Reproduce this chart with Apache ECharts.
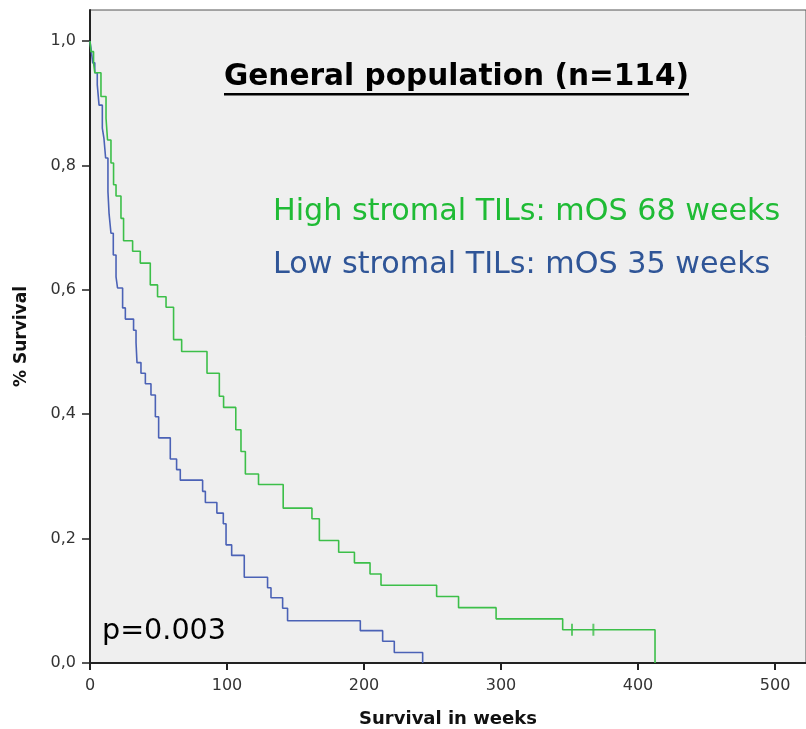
<!DOCTYPE html>
<html>
<head>
<meta charset="utf-8">
<script src="https://cdn.jsdelivr.net/npm/echarts@6/dist/echarts.min.js"></script>
<style>html,body{margin:0;padding:0;background:#fff}#c{width:806px;height:729px}</style>
</head>
<body>
<div id="c"></div>
<script>
// Kaplan-Meier steps: time (weeks) at which survival drops, and survival after the drop
var highTimes = [0, 0.7, 2.6, 3.5, 8, 11.7, 12.8, 15.3, 17.2, 19, 22.6, 24.5, 31.1, 36.7, 44, 49.3, 55.5, 61, 66.9, 85.4, 94.4, 97.5, 106.4, 110.2, 113.4, 123, 141, 162, 167.4, 181.5, 193, 204.4, 212.4, 253, 269, 296.4, 345, 412.4];
var highSurv  = [1.0, 0.983, 0.965, 0.949, 0.911, 0.876, 0.841, 0.804, 0.769, 0.751, 0.715, 0.679, 0.662, 0.643, 0.608, 0.589, 0.572, 0.520, 0.501, 0.466, 0.429, 0.411, 0.375, 0.340, 0.304, 0.287, 0.249, 0.232, 0.197, 0.178, 0.161, 0.143, 0.125, 0.107, 0.089, 0.071, 0.0535, 0];
var highCensorTimes = [351.8, 367.4];
var highCensorSurv  = [0.0535, 0.0535];

var lowTimes = [0, 1, 2, 3.5, 5.3, 6.6, 9, 10.2, 11.4, 13.1, 13.9, 15.3, 17, 19, 20.1, 23.8, 25.8, 31.8, 33.6, 34.3, 37.2, 40.4, 44.5, 47.7, 50.1, 58.6, 63.2, 65.9, 82.2, 84.2, 92.6, 97.3, 99.3, 103.4, 112.6, 129.6, 132.1, 140.6, 144.2, 197.3, 213.6, 222.1, 242.8];
var lowSurv  = [1.0, 0.983, 0.965, 0.949, 0.930, 0.897, 0.860, 0.843, 0.812, 0.758, 0.723, 0.691, 0.656, 0.621, 0.603, 0.571, 0.553, 0.535, 0.515, 0.483, 0.466, 0.449, 0.431, 0.396, 0.362, 0.328, 0.311, 0.294, 0.276, 0.258, 0.241, 0.224, 0.190, 0.173, 0.138, 0.121, 0.105, 0.088, 0.068, 0.052, 0.035, 0.017, 0];

var xTicks = [0, 100, 200, 300, 400, 500];
var yTicks = [0, 0.2, 0.4, 0.6, 0.8, 1.0];

function pairs(a, b) { return a.map(function (v, i) { return [v, b[i]]; }); }

var GREEN = '#3cbf49';
var BLUE = '#4b62b6';

var chart = echarts.init(document.getElementById('c'), null, {renderer: 'canvas'});
chart.setOption({
  animation: false,
  backgroundColor: '#ffffff',
  grid: {left: 90, right: 0, top: 10, bottom: 66, containLabel: false, outerBoundsMode: 'none',
    show: true, backgroundColor: '#efefef', borderColor: '#555', borderWidth: 1},
  xAxis: {
    type: 'value', min: 0, max: 522.6, interval: 100,
    name: 'Survival in weeks', nameLocation: 'middle', nameGap: 47,
    nameTextStyle: {fontFamily: 'DejaVu Sans', fontWeight: 'bold', fontSize: 18, color: '#111'},
    axisLine: {show: true, onZero: false, lineStyle: {color: '#222', width: 2}},
    axisTick: {show: true, length: 7, lineStyle: {color: '#222', width: 2}},
    axisLabel: {showMaxLabel: false, fontFamily: 'DejaVu Sans', fontSize: 16, color: '#333', margin: 15,
      formatter: function (v) { return xTicks.indexOf(v) >= 0 ? String(v) : ''; }},
    splitLine: {show: false}
  },
  yAxis: {
    type: 'value', min: 0, max: 1.05, interval: 0.2,
    name: '% Survival', nameLocation: 'middle', nameGap: 60,
    nameTextStyle: {fontFamily: 'DejaVu Sans', fontWeight: 'bold', fontSize: 17, color: '#111'},
    axisLine: {show: true, lineStyle: {color: '#222', width: 2}},
    axisTick: {show: true, length: 8, lineStyle: {color: '#222', width: 1.5}},
    axisLabel: {showMaxLabel: false, fontFamily: 'DejaVu Sans', fontSize: 16, color: '#333', margin: 14,
      formatter: function (v) { return yTicks.some(function (t) { return Math.abs(t - v) < 1e-6; }) ? v.toFixed(1).replace('.', ',') : ''; }},
    splitLine: {show: false}
  },
  series: [
    {type: 'line', step: 'end', data: pairs(lowTimes, lowSurv), showSymbol: false, lineStyle: {color: BLUE, width: 1.6}, z: 3},
    {type: 'line', step: 'end', data: pairs(highTimes, highSurv), showSymbol: false, lineStyle: {color: GREEN, width: 1.6}, z: 4},
    {type: 'scatter', data: pairs(highCensorTimes, highCensorSurv), symbol: 'rect', symbolSize: [2, 12], itemStyle: {color: GREEN}, z: 5}
  ],
  graphic: [
    {type: 'text', x: 224, y: 77, style: {text: 'General population (n=114)', font: 'bold 29.6px "DejaVu Sans"', fill: '#000', verticalAlign: 'middle'}},
    {type: 'rect', shape: {x: 224, y: 93, width: 465, height: 2.5}, style: {fill: '#000'}},
    {type: 'text', x: 273, y: 212, style: {text: 'High stromal TILs: mOS 68 weeks', font: '30.2px "DejaVu Sans"', fill: '#1fbb35', verticalAlign: 'middle'}},
    {type: 'text', x: 273, y: 265, style: {text: 'Low stromal TILs: mOS 35 weeks', font: '30.2px "DejaVu Sans"', fill: '#2f5597', verticalAlign: 'middle'}},
    {type: 'text', x: 102, y: 632, style: {text: 'p=0.003', font: '28.6px "DejaVu Sans"', fill: '#000', verticalAlign: 'middle'}}
  ]
});
</script>
</body>
</html>
